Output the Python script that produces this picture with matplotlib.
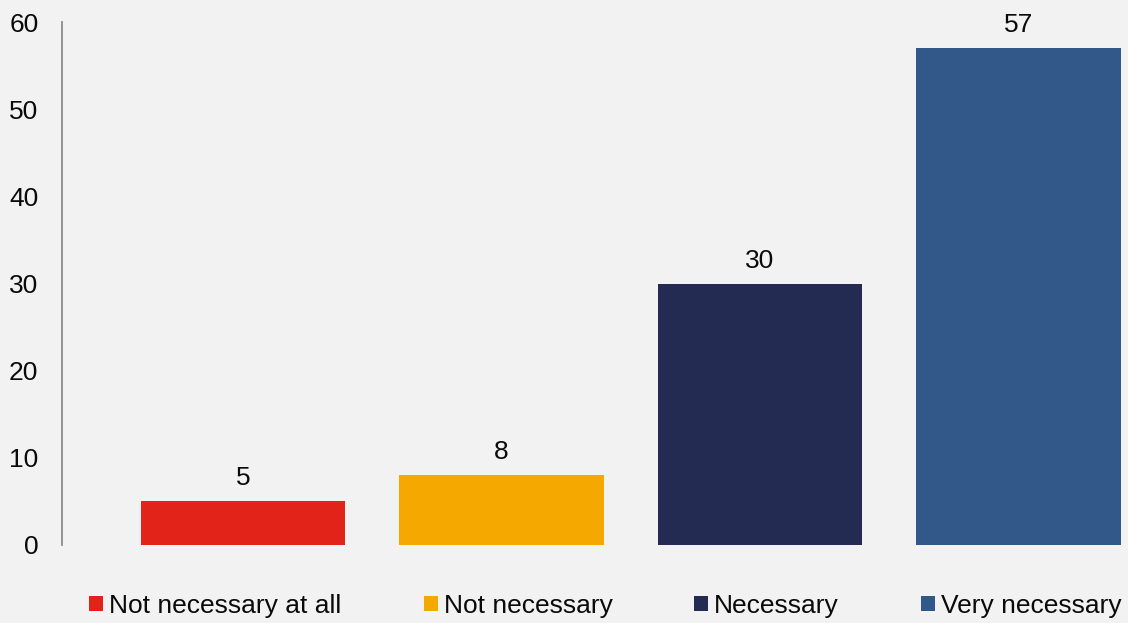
import matplotlib.pyplot as plt
from matplotlib.patches import Patch

# ---------------- DATA ----------------
categories = ["Not necessary at all", "Not necessary", "Necessary", "Very necessary"]
values = [5, 8, 30, 57]
colors = ["#e2231a", "#f5a800", "#232b52", "#325789"]
y_ticks = [0, 10, 20, 30, 40, 50, 60]

# ---------------- STYLE ----------------
plt.rcParams["font.family"] = ["Liberation Sans", "DejaVu Sans"]
bg = "#f2f2f2"
font_size = 19

fig = plt.figure(figsize=(11.28, 6.23), dpi=100, facecolor=bg)
ax = fig.add_axes([62 / 1128, 78 / 623, 1066 / 1128, 523 / 623])
ax.set_facecolor(bg)

x = list(range(len(categories)))
bars = ax.bar(x, values, width=0.79, color=colors)

# value labels above the bars
for rect, val in zip(bars, values):
    ax.annotate(str(val), (rect.get_x() + rect.get_width() / 2, val),
                xytext=(0, 11.5), textcoords="offset points",
                ha="center", va="baseline", fontsize=font_size, color="#0a0a0a")

ax.set_xlim(-0.70, 3.424)
ax.set_ylim(0, 60)
ax.set_yticks(y_ticks)
ax.set_xticks([])
ax.tick_params(axis="y", length=0, pad=17, labelsize=font_size, labelcolor="#0a0a0a")

for side in ["top", "right", "bottom"]:
    ax.spines[side].set_visible(False)
ax.spines["left"].set_color("#8c8c8c")
ax.spines["left"].set_linewidth(1.3)

# legend along the bottom
handles = [Patch(facecolor=c, edgecolor="none", label=lab) for c, lab in zip(colors, categories)]
fig.legend(handles=handles, loc="center", bbox_to_anchor=(0.5368, 0.027),
           ncol=4, frameon=False, fontsize=font_size, borderpad=0,
           handlelength=0.53, handleheight=0.5, handletextpad=0.23,
           columnspacing=3.1, labelcolor="#0a0a0a")

fig.savefig("out.png", facecolor=bg)
